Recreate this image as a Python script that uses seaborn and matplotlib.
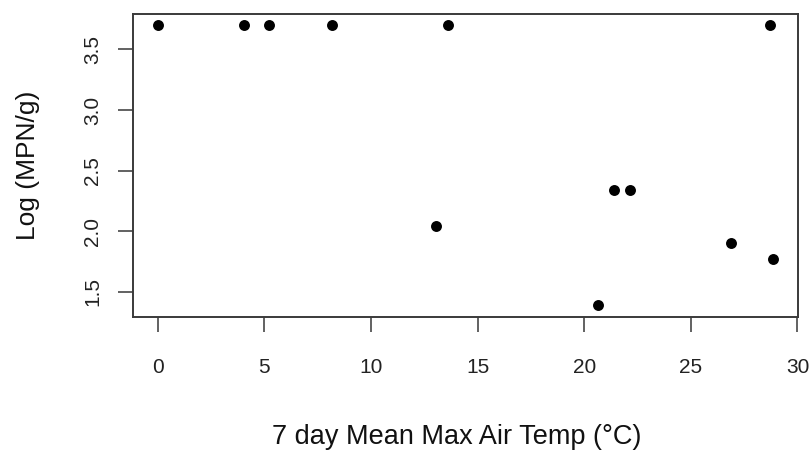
import matplotlib
matplotlib.use("Agg")
import matplotlib.pyplot as plt
import seaborn as sns
import pandas as pd

# Data
temp_c = [0.0, 4.06, 5.24, 8.17, 13.63, 28.73,
          13.06, 20.64, 21.39, 22.13, 26.9, 28.87]
log_mpn = [3.70, 3.70, 3.70, 3.70, 3.70, 3.70,
           2.04, 1.39, 2.34, 2.34, 1.90, 1.77]
x_ticks = [0, 5, 10, 15, 20, 25, 30]
y_ticks = [1.5, 2.0, 2.5, 3.0, 3.5]
x_label = "7 day Mean Max Air Temp (°C)"
y_label = "Log (MPN/g)"

df = pd.DataFrame({"temp": temp_c, "logmpn": log_mpn})

sns.set_theme(style="white")
plt.rcParams["font.family"] = ["Liberation Sans", "DejaVu Sans"]

fig = plt.figure(figsize=(8.11, 4.5), dpi=100)
ax = fig.add_axes([133 / 811, 1 - 316.5 / 450, 665 / 811, 302.5 / 450])

sns.scatterplot(data=df, x="temp", y="logmpn", ax=ax, color="black",
                s=62, edgecolor="black", linewidth=0, legend=False)

# R-style 4% padding
xr = max(temp_c) - min(temp_c)
yr = max(log_mpn) - min(log_mpn)
ax.set_xlim(min(temp_c) - 0.04 * xr, max(temp_c) + 0.04 * xr)
ax.set_ylim(min(log_mpn) - 0.04 * yr, max(log_mpn) + 0.04 * yr)

ax.set_xticks(x_ticks)
ax.set_yticks(y_ticks)
ax.set_xticklabels([str(v) for v in x_ticks])
ax.set_yticklabels([f"{v:.1f}" for v in y_ticks])

edge = "#3a3a3a"
for sp in ax.spines.values():
    sp.set_color(edge)
    sp.set_linewidth(1.4)

ax.tick_params(axis="x", direction="out", length=11, width=1.3, color="#555555",
               pad=19, labelsize=15, labelcolor="#222222", bottom=True)
ax.tick_params(axis="y", direction="out", length=11, width=1.3, color="#555555",
               pad=11, labelsize=15, labelcolor="#222222", left=True,
               labelrotation=90)
for lbl in ax.get_yticklabels():
    lbl.set_verticalalignment("center")

ax.set_xlabel(x_label, fontsize=19.5, color="#111111", va="center")
ax.xaxis.set_label_coords((457 - 133) / 665, (316.5 - 437) / 302.5)
ax.set_ylabel(y_label, fontsize=19, color="#111111", va="center")
ax.yaxis.set_label_coords((28 - 133) / 665, (316.5 - 165) / 302.5)

fig.savefig("out.png", dpi=100, facecolor="white")
